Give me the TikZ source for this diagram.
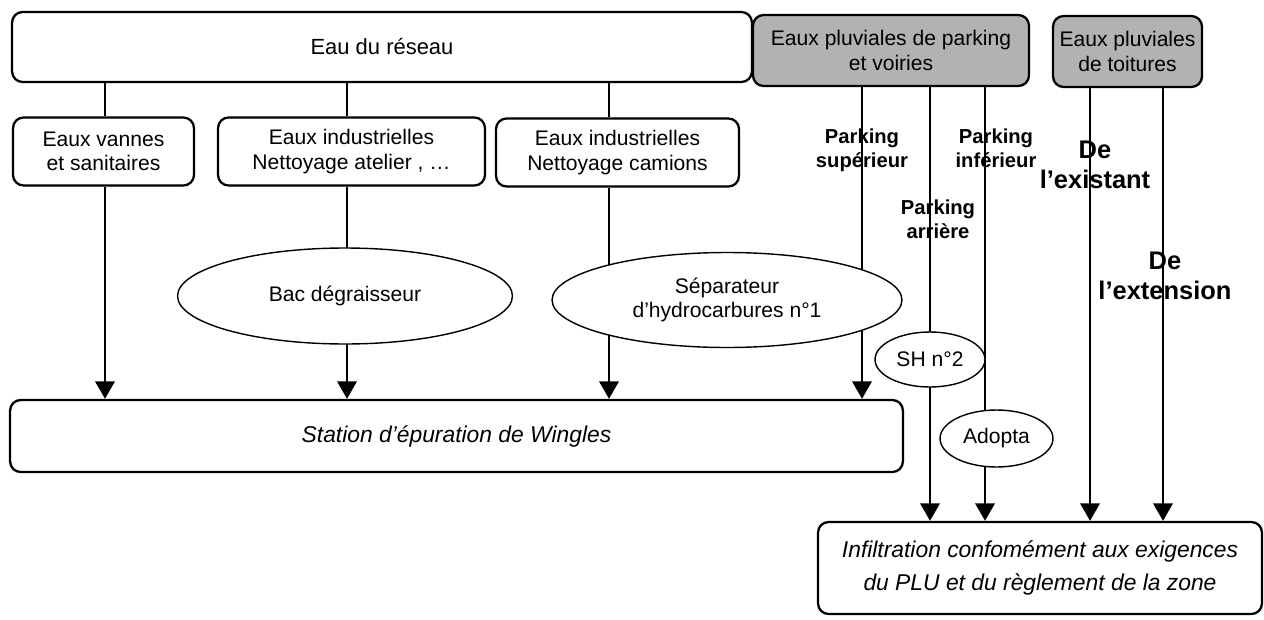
\documentclass[tikz,border=0pt]{standalone}
\usepackage{fontspec}
\setmainfont{Liberation Sans}
\usetikzlibrary{shapes.geometric,arrows.meta,backgrounds}

\begin{document}
\begin{tikzpicture}[x=0.02cm,y=-0.02cm,
		boite/.style={draw,line width=1.3pt,rounded corners=6pt,align=center,inner sep=0pt,font=\fontsize{12}{14}\selectfont},
		pluie/.style={boite,fill=black!30},
		bassin/.style={ellipse,draw,line width=0.8pt,fill=white,align=center,inner sep=0pt,font=\fontsize{12}{14}\selectfont},
		tuyau/.style={line width=1.6pt},
		fleche/.style={tuyau,-{Triangle[length=10pt,width=11pt]}},
		etiq/.style={align=center,font=\bfseries\fontsize{11.5}{13.5}\selectfont},
		grande/.style={align=center,font=\bfseries\fontsize{14.5}{17}\selectfont}]
		\useasboundingbox (0,0) rectangle (1264,619);
		
		% eaux usees
		\node[boite,minimum width=14.8cm,minimum height=1.4cm,font=\fontsize{12.5}{15}\selectfont] (reseau) at (382,47) {Eau du réseau};
		\node[boite,minimum width=3.62cm,minimum height=1.36cm] (vannes) at (103.5,151.5) {Eaux vannes\\et sanitaires};
		\node[boite,minimum width=5.34cm,minimum height=1.36cm] (atelier) at (351.5,151.5) {Eaux industrielles\\Nettoyage atelier , …};
		\node[boite,minimum width=4.86cm,minimum height=1.36cm] (camions) at (617.5,152.5) {Eaux industrielles\\Nettoyage camions};
		\node[bassin,minimum width=6.7cm,minimum height=1.92cm] (bac) at (345,296) {Bac dégraisseur};
		\node[bassin,minimum width=7cm,minimum height=1.9cm] (sep) at (727,300) {Séparateur\\d’hydrocarbures n°1};
		\node[boite,minimum width=17.86cm,minimum height=1.44cm,font=\itshape\fontsize{13}{18.5}\selectfont] (station) at (456.5,436) {Station d’épuration de Wingles};
		
		% eaux pluviales
		\node[pluie,minimum width=5.52cm,minimum height=1.42cm] (parking) at (891,50.5) {Eaux pluviales de parking\\et voiries};
		\node[pluie,minimum width=2.98cm,minimum height=1.42cm] (toitures) at (1127.5,51.5) {Eaux pluviales\\de toitures};
		\node[bassin,minimum width=2.2cm,minimum height=1.1cm] (sh) at (930,359.5) {SH n°2};
		\node[bassin,minimum width=2.26cm,minimum height=1.14cm] (adopta) at (996.5,438.5) {Adopta};
		\node[boite,minimum width=8.88cm,minimum height=1.84cm,font=\itshape\fontsize{13}{18.5}\selectfont] (infiltration) at (1040,568) {Infiltration confomément aux exigences\\du PLU et du règlement de la zone};
		
		\coordinate (c1) at (105,0);
		\coordinate (c2) at (347,0);
		\coordinate (c3) at (609,0);
		\coordinate (c4) at (862,0);
		\coordinate (c5) at (930,0);
		\coordinate (c6) at (985,0);
		\coordinate (c7) at (1090,0);
		\coordinate (c8) at (1163,0);
		
		\begin{pgfonlayer}{background}
		\draw[tuyau] (reseau.south -| c1) -- (vannes.north -| c1);
		\draw[tuyau] (reseau.south -| c2) -- (atelier.north -| c2);
		\draw[tuyau] (reseau.south -| c3) -- (camions.north -| c3);
		\draw[fleche] (vannes.south -| c1) -- (station.north -| c1);
		\draw[tuyau] (atelier.south -| c2) -- (bac.center -| c2);
		\draw[fleche] (bac.center -| c2) -- (station.north -| c2);
		\draw[tuyau] (camions.south -| c3) -- (sep.center -| c3);
		\draw[fleche] (sep.center -| c3) -- (station.north -| c3);
		
		\draw[fleche] (parking.south -| c4) -- (station.north -| c4);
		\draw[tuyau] (parking.south -| c5) -- (sh.center -| c5);
		\draw[fleche] (sh.center -| c5) -- (infiltration.north -| c5);
		\draw[tuyau] (parking.south -| c6) -- (adopta.center -| c6);
		\draw[fleche] (adopta.center -| c6) -- (infiltration.north -| c6);
		\draw[fleche] (toitures.south -| c7) -- (infiltration.north -| c7);
		\draw[fleche] (toitures.south -| c8) -- (infiltration.north -| c8);
		\end{pgfonlayer}
		
		\node[etiq] (sup) at (862,150) {Parking\\supérieur};
		\node[etiq] (arr) at (938,219) {Parking\\arrière};
		\node[etiq] (inf) at (996,148) {Parking\\inférieur};
		\node[grande] (exist) at (1095,165) {De\\l’existant};
		\node[grande] (ext) at (1165,276) {De\\l’extension};
\end{tikzpicture}
\end{document}
